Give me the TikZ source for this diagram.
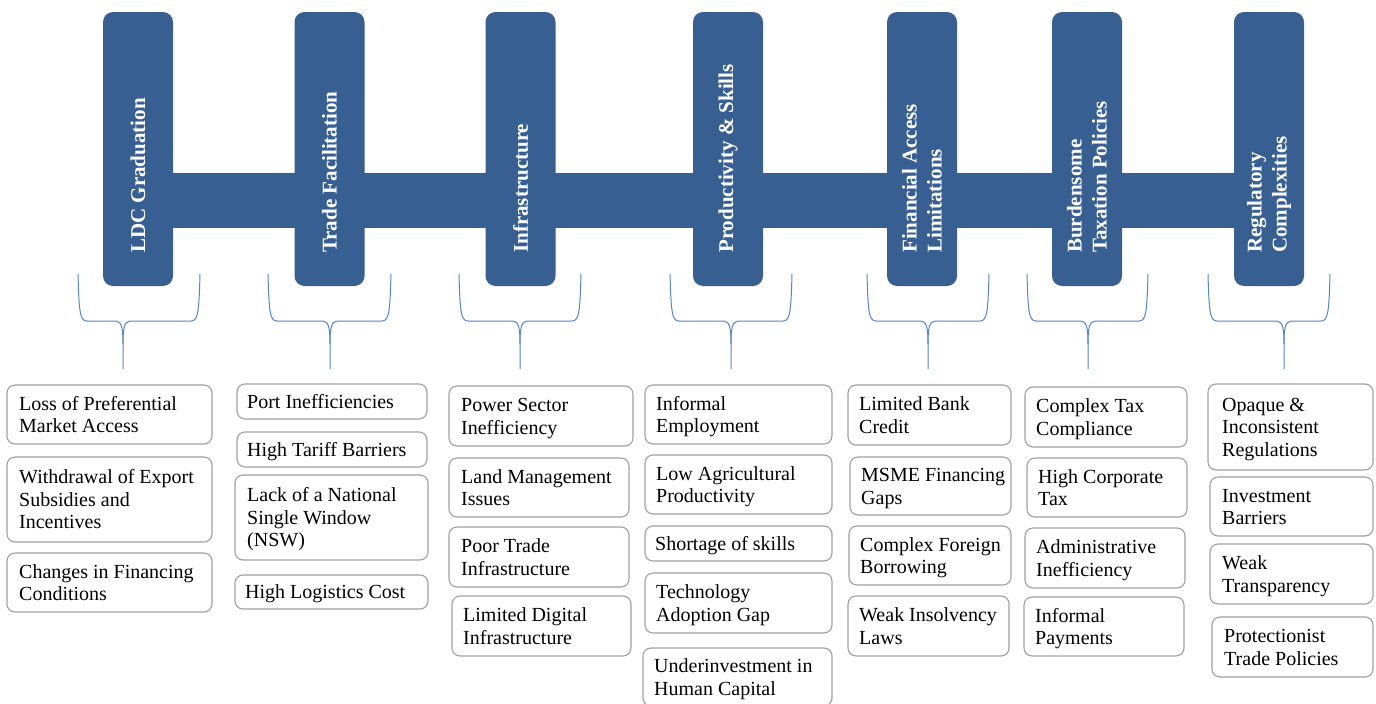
\documentclass[tikz,border=0pt]{standalone}
\usepackage{fontspec}
\setmainfont{Liberation Serif}

\definecolor{pillarblue}{HTML}{385F92}
\definecolor{bracketblue}{HTML}{5585C8}
\definecolor{boxgray}{HTML}{A0A0A0}

\tikzset{
  pillar/.style={fill=pillarblue, rounded corners=10pt, minimum width=70pt,
    minimum height=274pt, inner sep=0pt},
  pillartitle/.style={text=white, font=\bfseries\fontsize{21}{25}\selectfont,
    rotate=90, anchor=west, align=left, inner sep=0pt},
  issuebox/.style={draw=boxgray, line width=1.1pt, rounded corners=8pt, inner sep=0pt},
  issuetext/.style={font=\fontsize{20}{22.5}\selectfont, align=left,
    anchor=north west, inner sep=0pt, text=black},
  bracket/.style={draw=bracketblue, line width=1pt},
}

% issue box: name, x1, x2, y1, y2, text x, number of lines, text
\newcommand\issue[8]{%
  \node[issuebox, minimum width={#3-#2}, minimum height={#5-#4}] (#1)
    at ({(#2+#3)/2},{(#4+#5)/2}) {};
  \node[issuetext] (#1-text)
    at ({#6},{(#4+#5)/2-(#7-1)*11.25+6.6-14}) {\rule{0pt}{14pt}#8};
}

% downward curly bracket: left arm x, right arm x, tip x
\newcommand\bracketshape[3]{%
  \draw[bracket] (#1,274) .. controls (#1+1,312) and (#1+2,321) .. (#1+9,321)
    -- (#3-7,321) .. controls (#3-1,321) and (#3,330) .. (#3,344) -- (#3,369);
  \draw[bracket] (#2,274) .. controls (#2-1,312) and (#2-2,321) .. (#2-9,321)
    -- (#3+7,321) .. controls (#3+1,321) and (#3,330) .. (#3,344);
}

\begin{document}
\begin{tikzpicture}[x=1pt, y=-1pt]
\useasboundingbox[fill=white] (0,0) rectangle (1376,704);

% pillars
\node[pillar] (p1) at (138,149) {};
\node[pillar] (p2) at (329.5,149) {};
\node[pillar] (p3) at (520.5,149) {};
\node[pillar] (p4) at (728,149) {};
\node[pillar] (p5) at (922,149) {};
\node[pillar] (p6) at (1087,149) {};
\node[pillar] (p7) at (1269,149) {};

% horizontal bar joining the pillars
\coordinate (bartop) at (0,173);
\coordinate (barbot) at (0,228);
\fill[pillarblue] (p1.center |- bartop) rectangle (p7.center |- barbot);

% pillar titles
\coordinate (titlebase) at (0,253);
\node[pillartitle] (t1) at (p1.center |- titlebase) {LDC Graduation};
\node[pillartitle] (t2) at (p2.center |- titlebase) {Trade Facilitation};
\node[pillartitle] (t3) at (p3.center |- titlebase) {Infrastructure};
\node[pillartitle] (t4) at (p4.center |- titlebase) {Productivity \& Skills};
\node[pillartitle] (t5) at (p5.center |- titlebase) {Financial Access\\Limitations};
\node[pillartitle] (t6) at (p6.center |- titlebase) {Burdensome\\Taxation Policies};
\node[pillartitle] (t7) at (p7.center |- titlebase) {Regulatory\\Complexities};

% brackets under the pillars
\bracketshape{78}{200}{123}
\bracketshape{268}{391}{330}
\bracketshape{459}{581}{520}
\bracketshape{670}{792}{731}
\bracketshape{867}{989}{928}
\bracketshape{1027}{1148}{1088}
\bracketshape{1208}{1330}{1284}

% LDC Graduation
\issue{c1a}{7}{212}{385}{444}{19}{2}{Loss of Preferential\\Market Access}
\issue{c1b}{7}{212}{457}{542}{19}{3}{Withdrawal of Export\\Subsidies and\\Incentives}
\issue{c1c}{7}{212}{553}{612}{19}{2}{Changes in Financing\\Conditions}

% Trade Facilitation
\issue{c2a}{237}{427}{384}{419}{247}{1}{Port Inefficiencies}
\issue{c2b}{237}{427}{432}{467}{247}{1}{High Tariff Barriers}
\issue{c2c}{235}{428}{475}{560}{247}{3}{Lack of a National\\Single Window\\(NSW)}
\issue{c2d}{235}{428}{575}{609}{245}{1}{High Logistics Cost}

% Infrastructure
\issue{c3a}{449}{633}{386}{446}{461}{2}{Power Sector\\Inefficiency}
\issue{c3b}{449}{629}{458}{517}{461}{2}{Land Management\\Issues}
\issue{c3c}{449}{629}{527}{587}{461}{2}{Poor Trade\\Infrastructure}
\issue{c3d}{452}{631}{596}{656}{463}{2}{Limited Digital\\Infrastructure}

% Productivity & Skills
\issue{c4a}{645}{832}{385}{444}{656}{2}{Informal\\Employment}
\issue{c4b}{645}{832}{455}{514}{656}{2}{Low Agricultural\\Productivity}
\issue{c4c}{645}{832}{526}{561}{655}{1}{Shortage of skills}
\issue{c4d}{645}{832}{573}{633}{656}{2}{Technology\\Adoption Gap}
\issue{c4e}{643}{832}{648}{706}{654}{2}{Underinvestment in\\Human Capital}

% Financial Access Limitations
\issue{c5a}{848}{1011}{385}{445}{859}{2}{Limited Bank\\Credit}
\issue{c5b}{850}{1011}{457}{515}{861}{2}{MSME Financing\\Gaps}
\issue{c5c}{849}{1011}{526}{585}{860}{2}{Complex Foreign\\Borrowing}
\issue{c5d}{848}{1009}{596}{656}{859}{2}{Weak Insolvency\\Laws}

% Burdensome Taxation Policies
\issue{c6a}{1025}{1187}{387}{447}{1036}{2}{Complex Tax\\Compliance}
\issue{c6b}{1027}{1187}{458}{517}{1038}{2}{High Corporate\\Tax}
\issue{c6c}{1025}{1185}{528}{588}{1036}{2}{Administrative\\Inefficiency}
\issue{c6d}{1024}{1184}{597}{656}{1035}{2}{Informal\\Payments}

% Regulatory Complexities
\issue{c7a}{1208}{1373}{384}{470}{1222}{3}{Opaque \&\\Inconsistent\\Regulations}
\issue{c7b}{1210}{1373}{477}{536}{1222}{2}{Investment\\Barriers}
\issue{c7c}{1210}{1373}{544}{604}{1222}{2}{Weak\\Transparency}
\issue{c7d}{1212}{1373}{617}{677}{1224}{2}{Protectionist\\Trade Policies}

\end{tikzpicture}
\end{document}
